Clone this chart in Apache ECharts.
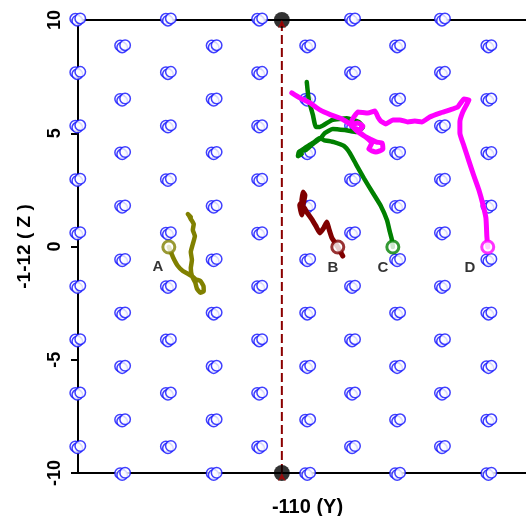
<!DOCTYPE html>
<html>
<head>
<meta charset="utf-8">
<script src="https://cdn.jsdelivr.net/npm/echarts@6/dist/echarts.min.js"></script>
<style>html,body{margin:0;padding:0;background:#fff}#c{width:526px;height:516px}</style>
</head>
<body>
<div id="c"></div>
<script>
// Lattice columns (x) and rows (y)
var evenCols = [-9, -5, -0.97, 3.13, 7.1];
var oddCols = [-7.02, -2.98, 1.15, 5.12, 9.15];
var evenRows = [10.03, 7.67, 5.31, 2.95, 0.59, -1.77, -4.13, -6.49, -8.85];
var oddRows = [8.85, 6.49, 4.13, 1.77, -0.59, -2.95, -5.31, -7.67, -10.03];
// overlapping circles at each lattice site
var siteOffsets = [[-0.12, 0.02], [-0.03, -0.06], [0.1, 0.04]];

var trajA = [[-4.99,-0.02],[-4.81,-0.46],[-4.59,-0.86],[-4.37,-1.08],[-4.15,-1.20],[-3.95,-1.32],[-3.80,-1.45],[-3.60,-1.52],[-3.46,-1.75],[-3.45,-1.98],[-3.60,-2.04],[-3.75,-1.86],[-3.82,-1.60],[-3.97,-1.30],[-4.02,-0.95],[-3.97,-0.60],[-4.02,-0.24],[-3.93,0.11],[-3.84,0.46],[-3.93,0.73],[-3.89,0.99],[-4.02,1.21],[-4.11,1.39],[-4.02,1.30],[-4.15,1.43]];
var trajB = [[2.69,-0.42],[2.47,-0.02],[2.21,0.38],[2.08,0.77],[1.99,1.08],[1.85,0.82],[1.68,0.60],[1.50,0.91],[1.32,1.21],[1.10,1.52],[0.97,1.74],[0.88,1.39],[0.79,1.83],[0.97,2.05],[0.88,1.61],[1.02,2.27],[0.93,2.41],[0.88,2.05]];
var trajC = [[4.90,-0.02],[4.86,0.29],[4.77,0.64],[4.64,1.17],[4.37,1.79],[4.02,2.36],[3.62,3.02],[3.27,3.64],[3.00,4.13],[2.74,4.44],[2.30,4.61],[1.85,4.70],[1.68,4.79],[1.37,4.57],[1.02,4.35],[0.75,4.17],[0.71,3.99],[0.88,4.08],[0.79,4.22],[1.06,4.26],[1.37,4.53],[1.68,4.75],[1.90,5.01],[2.25,5.19],[2.78,5.14],[3.31,5.06],[3.58,5.28],[3.40,5.50],[2.87,5.66],[2.21,5.58],[1.68,5.28],[1.50,5.28],[1.37,5.81],[1.19,6.47],[1.10,7.26]];
var trajD = [[9.09,-0.02],[9.05,0.46],[9.01,1.26],[8.87,1.88],[8.70,2.49],[8.48,3.11],[8.26,3.77],[8.04,4.44],[7.86,5.01],[7.86,5.50],[7.99,5.94],[8.17,6.29],[8.26,6.47],[8.04,6.51],[7.90,6.34],[7.77,6.16],[7.42,6.03],[6.98,5.89],[6.53,5.72],[6.18,5.50],[5.87,5.54],[5.56,5.50],[5.21,5.59],[4.90,5.59],[4.59,5.41],[4.37,5.54],[4.24,5.72],[4.11,5.98],[3.80,5.89],[3.36,5.94],[3.18,5.72],[3.09,5.54],[3.18,5.24],[3.44,5.15],[3.58,5.32],[3.36,5.45],[3.09,5.36],[3.31,5.10],[3.62,4.88],[3.89,4.75],[4.19,4.61],[4.42,4.57],[4.46,4.30],[4.15,4.17],[3.84,4.30],[3.97,4.57],[3.71,4.83],[3.36,5.10],[3.00,5.41],[2.65,5.63],[2.16,5.81],[1.68,6.03],[1.24,6.34],[0.79,6.56],[0.44,6.78]];

var trajNames = ['A', 'B', 'C', 'D'];
var trajColors = ['#808000', '#800000', '#008000', '#ff00ff'];
var trajWidths = [4.5, 5, 4.5, 5];
var startPoints = [[-4.99,-0.02],[2.47,-0.02],[4.90,-0.02],[9.09,-0.02]];
var labelPos = [[-5.47,-0.91],[2.25,-0.93],[4.46,-0.93],[8.30,-0.93]];
var refLine = [[0,-10],[0,10]];
var refMarks = [[0,10],[0,-10]];
var yTicks = [-10, -5, 0, 5, 10];

var lattice = [];
function addSites(cols, rows){
  cols.forEach(function(cx){
    rows.forEach(function(ry){
      siteOffsets.forEach(function(o){ lattice.push([cx+o[0], ry+o[1]]); });
    });
  });
}
addSites(evenCols, evenRows);
addSites(oddCols, oddRows);

var trajs = [trajA, trajB, trajC, trajD];
var FONT = 'Liberation Sans, Arial, sans-serif';

var series = [
  {type:'scatter', data: lattice, symbol:'circle', symbolSize: 10.5, clip:false, z:2,
   itemStyle:{color:'#ffffff', borderColor:'#1010ff', borderWidth:1.5}, silent:true},
  {type:'line', data: refLine, showSymbol:false, z:3,
   lineStyle:{color:'#8b0000', width:2, type:[9,4]}}
];
trajs.forEach(function(t, i){
  series.push({type:'line', data:t, showSymbol:false, smooth:0.15, z:4,
    lineStyle:{color:trajColors[i], width:trajWidths[i], cap:'round', join:'round'}});
});
startPoints.forEach(function(p, i){
  series.push({type:'scatter', data:[p], symbol:'circle', symbolSize:12, z:5,
    itemStyle:{color:'#ffffff', borderColor:trajColors[i], borderWidth:3}});
});
series.push({type:'scatter', data: refMarks, symbol:'circle', symbolSize:16, z:6, clip:false,
  itemStyle:{color:'#000'}});
series.push({type:'scatter', data: refMarks, symbol:'arrow', symbolSize:[6,8], z:7, clip:false,
  itemStyle:{color:'#b00000'}});
series.push({type:'scatter', data: labelPos.map(function(p, i){ return {value:p, name:trajNames[i]}; }),
  symbolSize:0, z:8,
  label:{show:true, position:'inside', formatter:'{b}', color:'#000', fontWeight:'bold', fontSize:15, fontFamily:FONT}});

var chart = echarts.init(document.getElementById('c'));
chart.setOption({
  animation:false,
  backgroundColor:'#fff',
  grid:{left:78, top:20, width:453, height:453, containLabel:false, outerBoundsMode:'none'},
  xAxis:[
    {type:'value', min:-9, max:11, position:'bottom',
     axisLine:{show:true, onZero:false, lineStyle:{color:'#000', width:2}},
     axisTick:{show:false}, axisLabel:{show:false}, splitLine:{show:false},
     name:'-110 (Y)', nameLocation:'middle', nameGap:24,
     nameTextStyle:{color:'#000', fontWeight:'bold', fontSize:20, fontFamily:FONT, padding:[0,0,0,6]}},
    {type:'value', min:-9, max:11, position:'top',
     axisLine:{show:true, onZero:false, lineStyle:{color:'#000', width:2}},
     axisTick:{show:false}, axisLabel:{show:false}, splitLine:{show:false}}
  ],
  yAxis:{type:'value', min:yTicks[0], max:yTicks[yTicks.length-1], interval:5, position:'left',
    axisLine:{show:true, onZero:false, lineStyle:{color:'#000', width:2}},
    axisTick:{show:true, length:7, lineStyle:{color:'#000', width:2}},
    axisLabel:{rotate:90, color:'#000', fontWeight:'bold', fontSize:18, fontFamily:FONT, margin:14},
    splitLine:{show:false},
    name:'-1-12 ( Z )', nameLocation:'middle', nameRotate:90, nameGap:44,
    nameTextStyle:{color:'#000', fontWeight:'bold', fontSize:19, fontFamily:FONT}},
  series: series
});
</script>
</body>
</html>
